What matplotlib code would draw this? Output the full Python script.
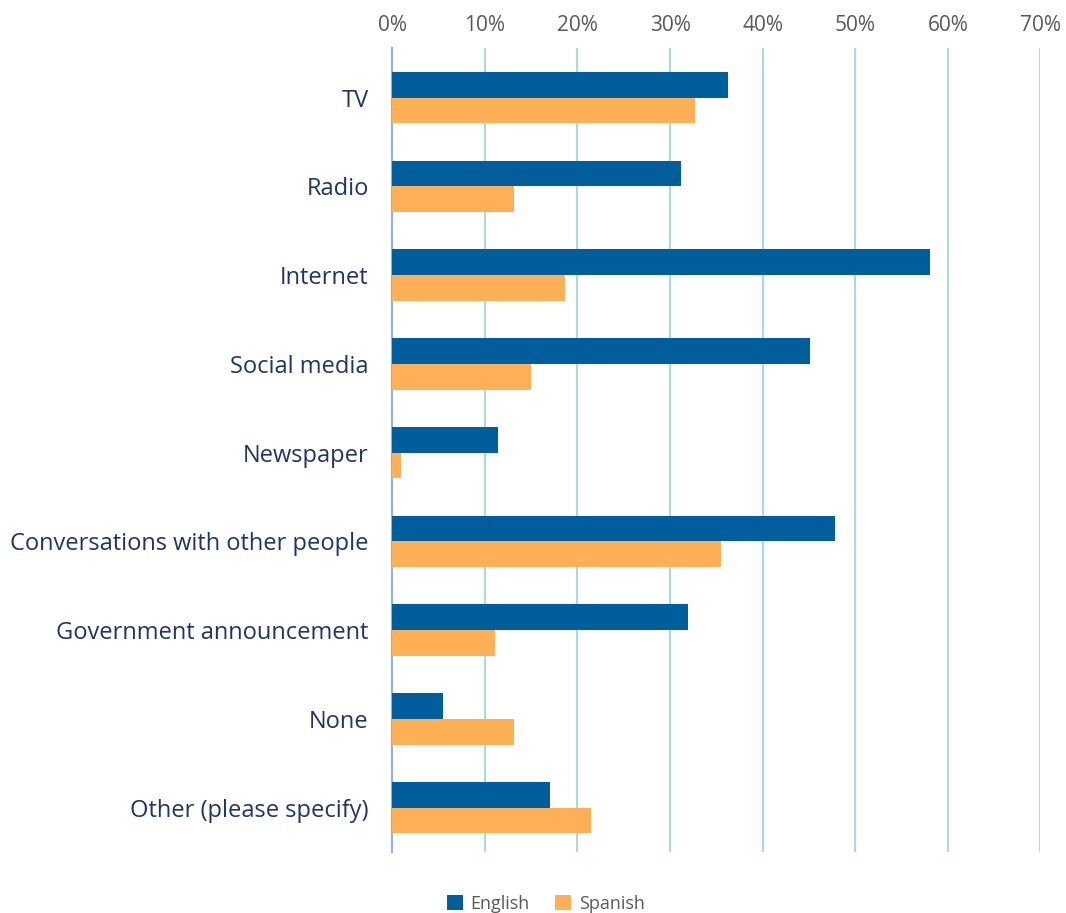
import matplotlib
matplotlib.use("Agg")
import matplotlib.pyplot as plt
from matplotlib.ticker import FuncFormatter
import numpy as np

plt.rcParams['font.family'] = ['Open Sans', 'DejaVu Sans']

categories = ["TV", "Radio", "Internet", "Social media", "Newspaper",
              "Conversations with other people", "Government announcement",
              "None", "Other (please specify)"]
english = [36.3, 31.2, 58.1, 45.1, 11.4, 47.8, 31.9, 5.5, 17.0]
spanish = [32.7, 13.1, 18.6, 15.0, 0.9, 35.5, 11.1, 13.1, 21.5]
xticks = [0, 10, 20, 30, 40, 50, 60, 70]

c_en = "#005E9C"
c_es = "#FFB057"

fig = plt.figure(figsize=(10.66, 9.13), dpi=100)
# axes spans y=48..852 px
ax = fig.add_axes([0.368, 1 - 852 / 913, 0.608, 804 / 913])

y = np.arange(len(categories))
h = 0.29
ax.barh(y - h / 2, english, height=h, color=c_en, label="English", zorder=3)
ax.barh(y + h / 2, spanish, height=h, color=c_es, label="Spanish", zorder=3)

ax.set_ylim(8.5, -0.56)
ax.set_xlim(0, 70)
ax.set_xticks(xticks)
ax.xaxis.set_major_formatter(FuncFormatter(lambda v, p: f"{v:.0f}%"))
ax.xaxis.tick_top()
ax.tick_params(axis='x', length=0, pad=9, labelsize=15, labelcolor="#595959")
ax.set_yticks(y)
ax.set_yticklabels(categories)
ax.tick_params(axis='y', length=0, pad=17, labelsize=17, labelcolor="#1F3468")

ax.grid(axis='x', color="#A9D8E6", linewidth=1.5, zorder=0)
for s in ["top", "right", "bottom"]:
    ax.spines[s].set_visible(False)
ax.spines["left"].set_color("#8DB3E2")
ax.spines["left"].set_linewidth(1.5)

fig.legend(loc="lower center", bbox_to_anchor=(0.512, -0.018), ncol=2, frameon=False,
           fontsize=13, labelcolor="#595959", handlelength=0.9, handleheight=0.9,
           columnspacing=1.4, handletextpad=0.4)

fig.savefig("out.png", dpi=100)
